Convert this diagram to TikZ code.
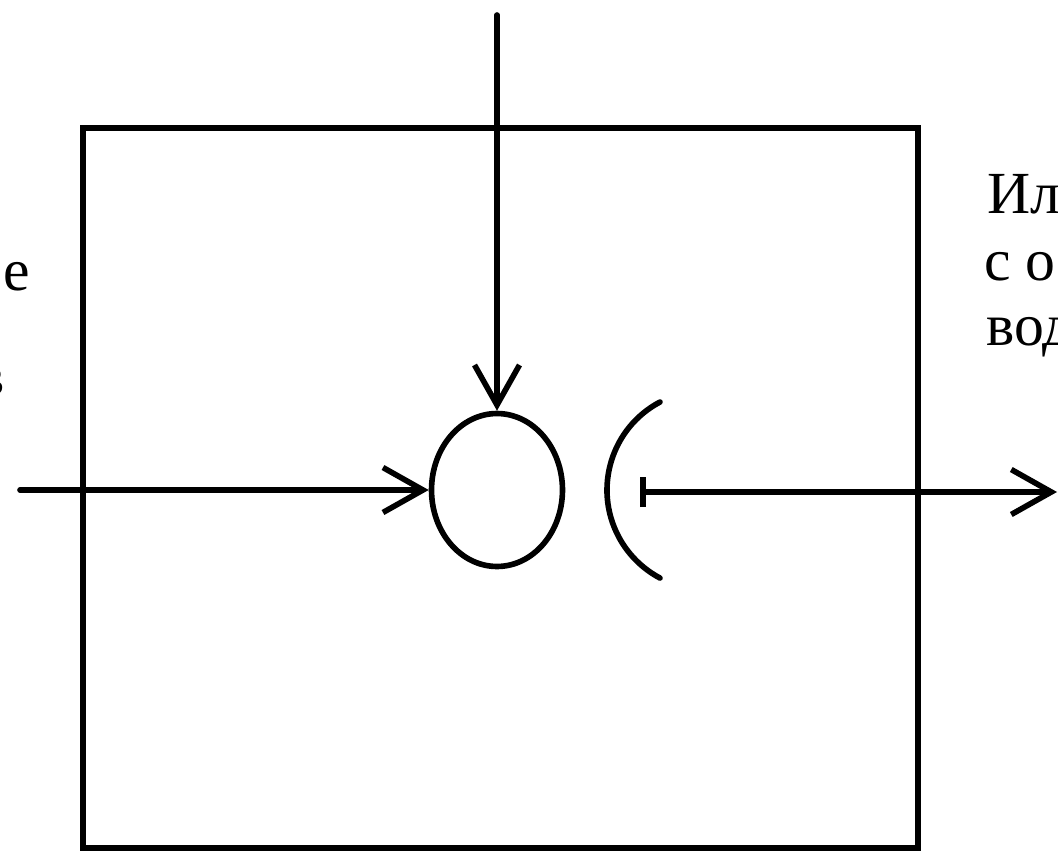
\documentclass[tikz,border=0pt]{standalone}
\usepackage{fontspec}
\setmainfont{Liberation Serif}
\usetikzlibrary{arrows.meta,shapes.geometric}
\begin{document}
\begin{tikzpicture}[x=0.02cm,y=0.02cm,
  line/.style={line width=3.2pt,line cap=round},
  tip/.style={-{Straight Barb[length=0.8cm,width=0.9cm,line width=3.2pt]}},
  lbl/.style={font=\fontsize{34}{40}\selectfont,inner sep=0pt},
  ring/.style={ellipse,draw,line width=3.2pt,minimum width=2.62cm,minimum height=3.06cm,inner sep=0pt}]
\useasboundingbox (0,0) rectangle (1058,-852);
\fill[white] (0,0) rectangle (1058,-852);
% box
\draw[line width=3.4pt] (83,-128) rectangle (918,-848);
% circle
\node[ring] (c) at (497,-490) {};
% coordinates
\coordinate (top) at (497,-15);
\coordinate (lin) at (20,-490);
\coordinate (rin) at (640,-492);
\coordinate (rout) at (1057,-492);
% arrows
\draw[line,tip] (top) -- (c.north);
\draw[line,tip] (lin) -- (c.west);
\draw[line,{Bar[width=0.6cm,line width=3.2pt]}-{Straight Barb[length=0.8cm,width=0.9cm,line width=3.2pt]}] (rin) -- (rout);
% arc
\draw[line] (660,-402) arc[start angle=117.9,end angle=242.1,radius=99.6];
% labels
\node[lbl,anchor=base west] (r1) at (987,-213) {Ил};
\node[lbl,anchor=base west] (r2) at (984,-280) {с о};
\node[lbl,anchor=base west] (r3) at (986,-345) {вод};
\node[lbl,anchor=base east] (l1) at (30,-290) {е};
\node[lbl,anchor=base east] (l2) at (5,-395) {в};
\end{tikzpicture}
\end{document}
